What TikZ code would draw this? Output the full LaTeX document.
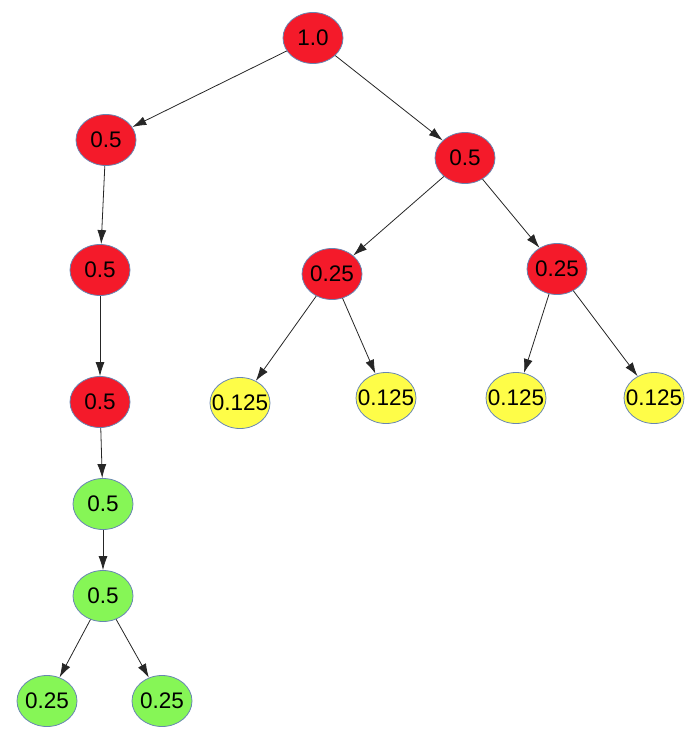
\documentclass[tikz,border=0pt]{standalone}
\usepackage{fontspec}
\setmainfont{Liberation Sans}
\usetikzlibrary{arrows.meta,shapes.geometric}
\definecolor{nodered}{RGB}{244,26,42}
\definecolor{nodegreen}{RGB}{134,246,86}
\definecolor{nodeyellow}{RGB}{254,253,72}
\definecolor{nodeborder}{RGB}{104,134,178}
\tikzset{
	prob/.style={ellipse, draw=nodeborder, line width=0.8pt, inner xsep=-7pt, inner ysep=0pt,
		minimum width=60pt, minimum height=51pt, font=\fontsize{22.5}{26}\selectfont},
	rednode/.style={prob, fill=nodered},
	greennode/.style={prob, fill=nodegreen},
	yellownode/.style={prob, fill=nodeyellow},
	edge/.style={-{Latex[length=14pt,width=9pt]}, line width=0.8pt, draw=black!85}
}

\begin{document}
\begin{tikzpicture}[x=1pt, y=-1pt]
			%%%%% START %%%%%
			
			\useasboundingbox (0, 0) rectangle (700, 738);
			
			\node[rednode] (root) at (313, 38) {1.0};
			
			\node[rednode] (l1) at (106, 140) {0.5};
			\node[rednode] (l2) at (100, 270) {0.5};
			\node[rednode] (l3) at (100, 402) {0.5};
			\node[greennode] (l4) at (103, 504) {0.5};
			\node[greennode] (l5) at (103, 596) {0.5};
			\node[greennode] (l6a) at (47, 701) {0.25};
			\node[greennode] (l6b) at (162, 701) {0.25};
			
			\node[rednode] (r1) at (465, 158) {0.5};
			\node[rednode] (r2a) at (332, 274) {0.25};
			\node[rednode] (r2b) at (557, 269) {0.25};
			\node[yellownode] (r3a) at (240, 403) {0.125};
			\node[yellownode] (r3b) at (386, 398) {0.125};
			\node[yellownode] (r3c) at (516, 398) {0.125};
			\node[yellownode] (r3d) at (654, 398) {0.125};
			
			\draw[edge] (root) -- (l1);
			\draw[edge] (root) -- (r1);
			
			\draw[edge] (l1) -- (l2);
			\draw[edge] (l2) -- (l3);
			\draw[edge] (l3) -- (l4);
			\draw[edge] (l4) -- (l5);
			\draw[edge] (l5) -- (l6a);
			\draw[edge] (l5) -- (l6b);
			
			\draw[edge] (r1) -- (r2a);
			\draw[edge] (r1) -- (r2b);
			\draw[edge] (r2a) -- (r3a);
			\draw[edge] (r2a) -- (r3b);
			\draw[edge] (r2b) -- (r3c);
			\draw[edge] (r2b) -- (r3d);
			
			%%%%% END %%%%%
\end{tikzpicture}
\end{document}
